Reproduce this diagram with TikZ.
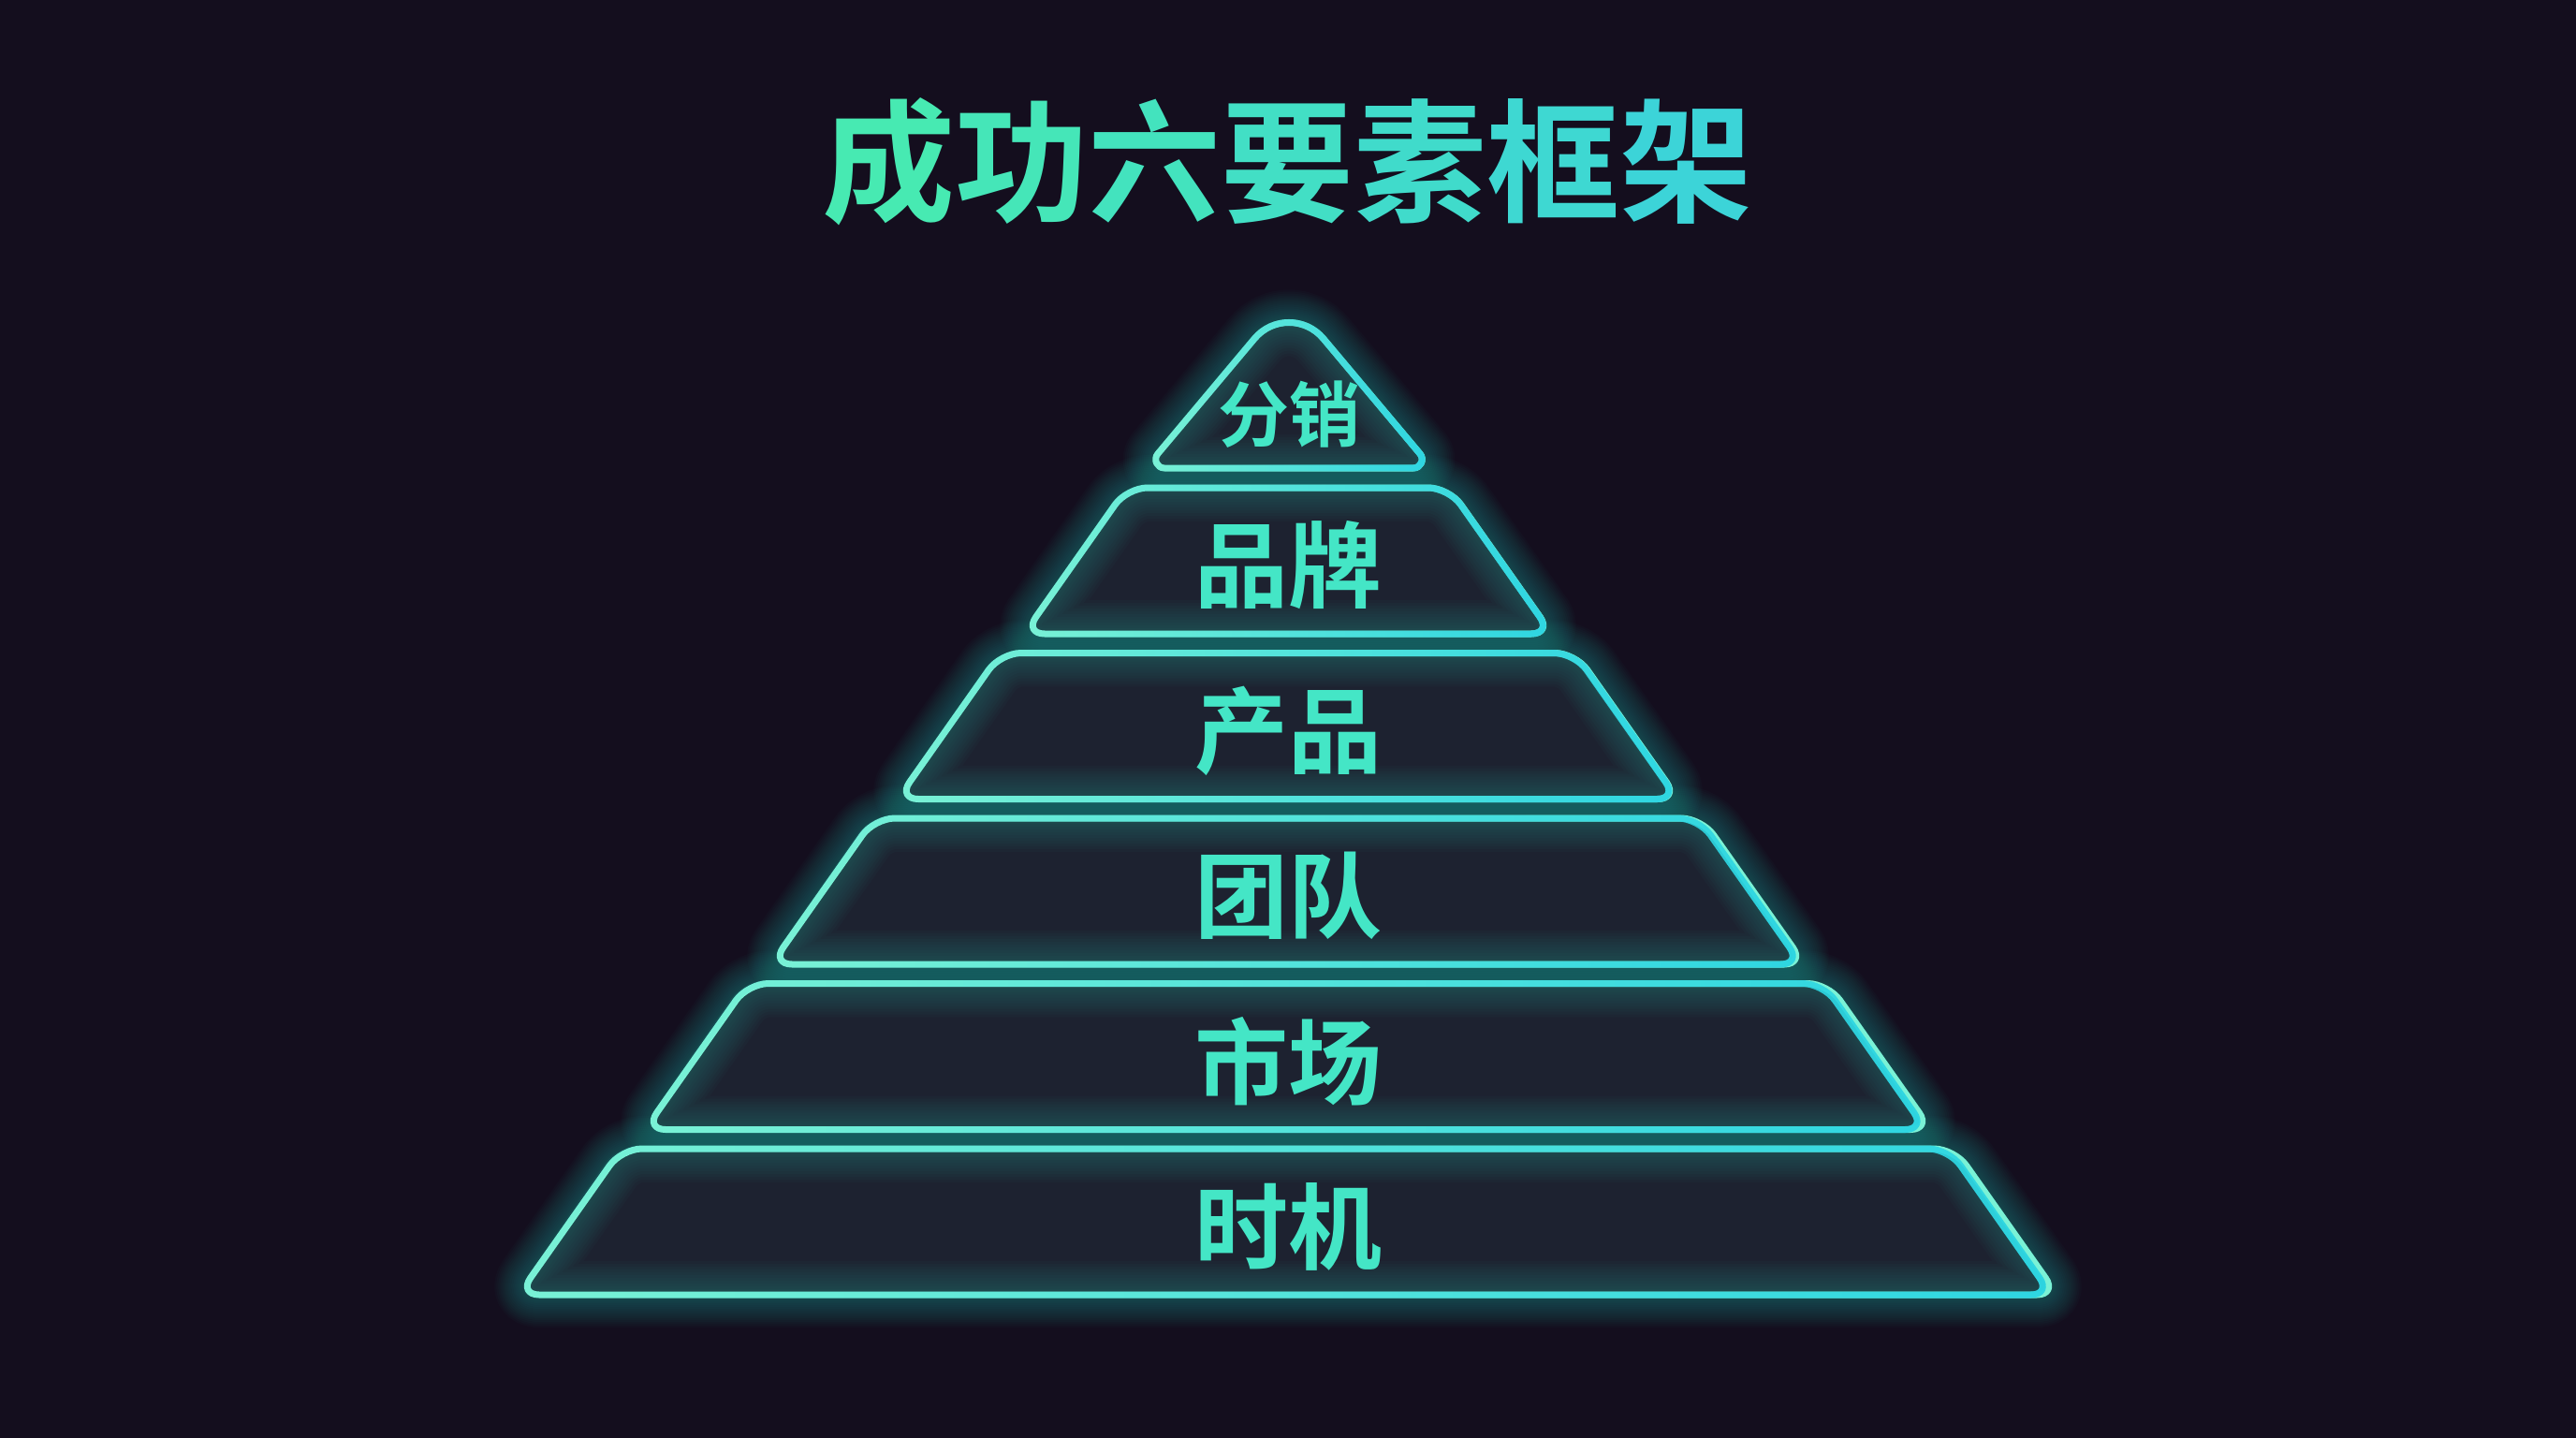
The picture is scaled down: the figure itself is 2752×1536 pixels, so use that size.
\documentclass[tikz,border=0pt]{standalone}
\usepackage{fontspec}
\newfontfamily\cjkb{Noto Sans CJK SC Bold}
\usetikzlibrary{fadings}
\definecolor{bg}{HTML}{140E1E}
\definecolor{tierfill}{HTML}{1D2230}
\definecolor{innerglow}{HTML}{3AB0A0}
\definecolor{outerglow}{HTML}{2CCFC0}
\definecolor{mintline}{HTML}{7AF2D6}
\definecolor{cyanline}{HTML}{2ED6E2}
\definecolor{labc}{HTML}{44E6C6}
\definecolor{titleL}{HTML}{47EAB2}
\definecolor{titleR}{HTML}{3CD4D8}
\colorlet{tA}{titleL}
\colorlet{tB}{titleR!17!titleL}
\colorlet{tC}{titleR!33!titleL}
\colorlet{tD}{titleR!50!titleL}
\colorlet{tE}{titleR!67!titleL}
\colorlet{tF}{titleR!83!titleL}
\colorlet{tG}{titleR}
\tikzfading[name=fadeinright, left color=transparent!100, right color=transparent!0]
\newcommand\tierP[4]{(1376,#1) -- (1376+#3,#1) -- (1376+#4,#2) -- (1376-#4,#2) -- (1376-#3,#1) -- cycle}
\newcommand\triP{(1340.3,361.6) .. controls (1359.5,338.8) and (1394.5,338.8) .. (1413.7,361.6) -- (1517.1,484.7) .. controls (1522.2,490.8) and (1517.9,500) .. (1510,500) -- (1244,500) .. controls (1236.1,500) and (1231.8,490.8) .. (1236.9,484.7) -- cycle}
\tikzset{
  tiershape/.style={rounded corners=22},
  glowpass/.style={draw=outerglow, line cap=round, line join=round},
  innerpass/.style={draw=innerglow, line join=round},
  rimline/.style={line width=7, line join=round},
  lab/.style={text=labc, inner sep=0, font=\cjkb\fontsize{100}{100}\selectfont},
  toplab/.style={text=labc, inner sep=0, font=\cjkb\fontsize{76}{76}\selectfont},
  titletext/.style={inner sep=0, font=\cjkb\fontsize{142}{142}\selectfont}
}
\begin{document}
\begin{tikzpicture}[x=1pt,y=-1pt]
\fill[bg] (0,0) rectangle (2752,1536);
\useasboundingbox (0,0) rectangle (2752,1536);

% title
\node[titletext] (title) at (1375,173) {\textcolor{tA}{成}\textcolor{tB}{功}\textcolor{tC}{六}\textcolor{tD}{要}\textcolor{tE}{素}\textcolor{tF}{框}\textcolor{tG}{架}};

% outer glows
\foreach \w in {10,14,...,70}{
  \path[glowpass, line width=\w, opacity=0.025] \triP;
  \foreach \ty/\by/\tw/\bw in {521/677/172/282, 697.5/853.5/307/417, 874/1030/442/552, 1050.5/1206.5/577/687, 1227/1383/712/822}{
    \path[glowpass, tiershape, line width=\w, opacity=0.025] \tierP{\ty}{\by}{\tw}{\bw};
  }
}

% top triangle
\fill[tierfill] \triP;
\begin{scope}
  \clip \triP;
  \foreach \w in {6,12,...,72}{
    \path[innerpass, line width=\w, opacity=0.03] \triP;
  }
\end{scope}
\draw[mintline, rimline] \triP;
\draw[cyanline, rimline, path fading=fadeinright] \triP;
\node[toplab] (fenxiao) at (1377,443) {分销};

% trapezoid tiers
\foreach \ty/\by/\tw/\bw/\nm/\tx in {521/677/172/282/pinpai/品牌, 697.5/853.5/307/417/chanpin/产品, 874/1030/442/552/tuandui/团队, 1050.5/1206.5/577/687/shichang/市场, 1227/1383/712/822/shiji/时机}{
  \fill[tierfill, tiershape] \tierP{\ty}{\by}{\tw}{\bw};
  \begin{scope}
    \clip[tiershape] \tierP{\ty}{\by}{\tw}{\bw};
    \foreach \w in {6,12,...,72}{
      \path[innerpass, tiershape, line width=\w, opacity=0.03] \tierP{\ty}{\by}{\tw}{\bw};
    }
  \end{scope}
  \draw[mintline, tiershape, rimline] \tierP{\ty}{\by}{\tw}{\bw};
  \draw[cyanline, tiershape, rimline, path fading=fadeinright] \tierP{\ty}{\by}{\tw}{\bw};
  \node[lab] (\nm) at (1376,{(\ty+\by)/2+5}) {\tx};
}
\end{tikzpicture}
\end{document}
